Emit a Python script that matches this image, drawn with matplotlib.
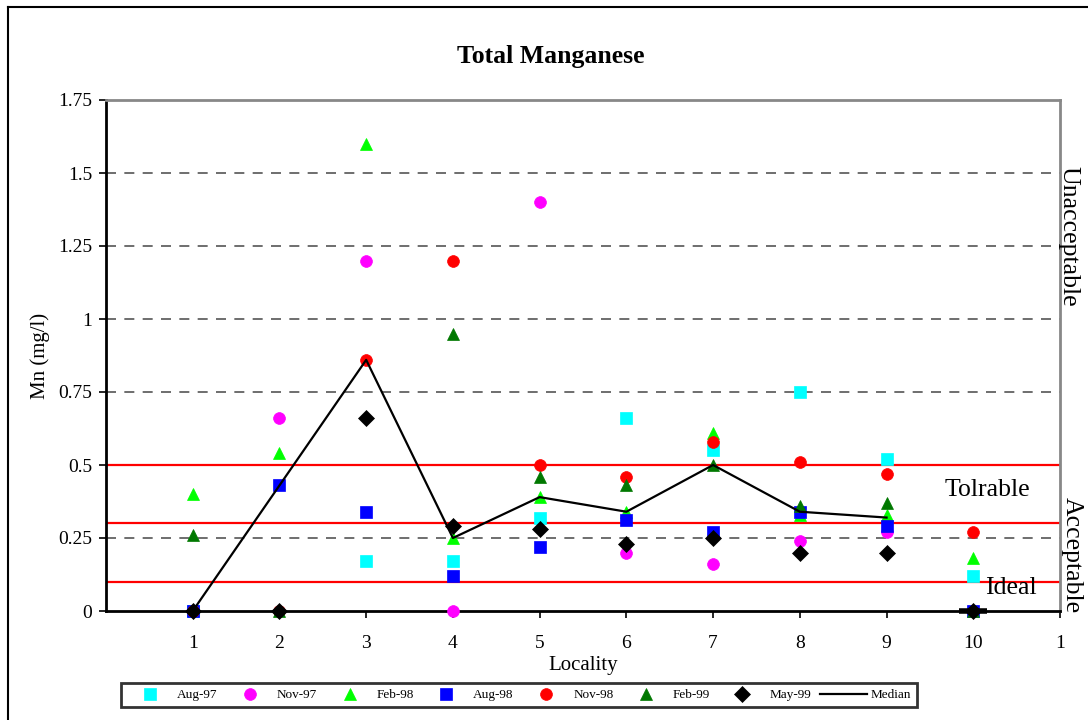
import numpy as np
import matplotlib
matplotlib.use('Agg')
import matplotlib.pyplot as plt
from matplotlib.lines import Line2D

plt.rcParams['font.family'] = ['Liberation Serif', 'DejaVu Serif']

nan = np.nan
locality = [1, 2, 3, 4, 5, 6, 7, 8, 9, 10]
aug97 = [0, nan, 0.17, 0.17, 0.32, 0.66, 0.55, 0.75, 0.52, 0.12]
nov97 = [nan, 0.66, 1.20, 0, 1.40, 0.20, 0.16, 0.24, 0.27, nan]
feb98 = [0.40, 0.54, 1.60, 0.25, 0.39, 0.34, 0.61, 0.33, 0.33, 0.18]
aug98 = [0, 0.43, 0.34, 0.12, 0.22, 0.31, 0.27, 0.34, 0.29, 0]
nov98 = [0, 0, 0.86, 1.20, 0.50, 0.46, 0.58, 0.51, 0.47, 0.27]
feb99 = [0.26, 0, nan, 0.95, 0.46, 0.43, 0.50, 0.36, 0.37, 0]
may99 = [0, 0, 0.66, 0.29, 0.28, 0.23, 0.25, 0.20, 0.20, 0]
median = [0, 0.43, 0.86, 0.25, 0.39, 0.34, 0.50, 0.34, 0.32, 0]

limits = [0.1, 0.3, 0.5]
grid_vals = [0.25, 0.75, 1.0, 1.25, 1.5]
yticks = [0, 0.25, 0.5, 0.75, 1, 1.25, 1.5, 1.75]
ytick_labels = ['0', '0.25', '0.5', '0.75', '1', '1.25', '1.5', '1.75']

series = [
    ('Aug-97', aug97, 's', '#00ffff', 11),
    ('Nov-97', nov97, 'o', '#ff00ff', 11.5),
    ('Feb-98', feb98, '^', '#00ff00', 11.5),
    ('Aug-98', aug98, 's', '#0000ff', 11),
    ('Nov-98', nov98, 'o', '#ff0000', 11.5),
    ('Feb-99', feb99, '^', '#007800', 11.5),
    ('May-99', may99, 'D', '#000000', 7),
]

W, H = 1088, 720
fig = plt.figure(figsize=(W / 100, H / 100), dpi=100)
ax = fig.add_axes([106 / W, 1 - 611 / H, (1060 - 106) / W, (611 - 100) / H])

for y in grid_vals:
    ax.axhline(y, color='#555555', lw=1.2, dashes=(6, 5), zorder=1)
for y in limits:
    ax.axhline(y, color='#ff0000', lw=1.6, zorder=2)

for name, vals, m, c, ms in series:
    ax.plot(locality, vals, ls='none', marker=m, color=c, ms=ms,
            mec=c, mew=0.5, label=name, zorder=3, clip_on=False)

ax.plot(locality[:-1], median[:-1], color='black', lw=1.6, label='Median', zorder=4)
ax.plot(locality[-1:], median[-1:], ls='none', marker='_', ms=20, mew=4,
        color='black', zorder=4, clip_on=False)

ax.set_xlim(0, 11)
ax.set_ylim(0, 1.75)
ax.set_xticks(locality + [11])
ax.set_xticklabels([str(v) for v in locality] + ['1'], fontsize=14)
ax.set_yticks(yticks)
ax.set_yticklabels(ytick_labels, fontsize=14)
ax.tick_params(direction='out', length=5, width=1.2, color='black')
ax.tick_params(axis='x', pad=12)
ax.tick_params(axis='y', pad=5)

for side in ['top', 'right']:
    ax.spines[side].set_color('#888888')
    ax.spines[side].set_linewidth(2)
for side in ['left', 'bottom']:
    ax.spines[side].set_color('black')
    ax.spines[side].set_linewidth(2)

ax.set_xlabel('Locality', fontsize=15, labelpad=3)
ax.set_ylabel('Mn (mg/l)', fontsize=15, labelpad=6)
fig.text(551 / W, 1 - 57 / H, 'Total Manganese', fontsize=18.5,
         fontweight='bold', ha='center', va='center')

ax.text(10.16, 0.414, 'Tolrable', fontsize=18.5, ha='center', va='center')
ax.text(10.43, 0.079, 'Ideal', fontsize=18.5, ha='center', va='center')
ax.text(11.1, 1.284, 'Unacceptable', fontsize=18.5, ha='center', va='center',
        rotation=-90, clip_on=False)
ax.text(11.13, 0.19, 'Acceptable', fontsize=18.5, ha='center', va='center',
        rotation=-90, clip_on=False)

handles, labels = ax.get_legend_handles_labels()
for h in handles[:-1]:
    h.set_markersize(8.5)
leg = fig.legend(handles, labels, ncol=8, loc='center',
                 bbox_to_anchor=(519 / W, 1 - 695 / H), fontsize=9.5,
                 frameon=True, fancybox=False, edgecolor='black',
                 handlelength=3.5, handletextpad=0.3, columnspacing=0.7,
                 borderpad=0.45, borderaxespad=0)
leg.get_frame().set_linewidth(2)

# outer chart border (left and top edges visible)
fig.add_artist(Line2D([8 / W, 8 / W], [0, 1 - 7 / H], color='black', lw=1.5))
fig.add_artist(Line2D([8 / W, 1], [1 - 7 / H, 1 - 7 / H], color='black', lw=1.5))

fig.savefig('out.png', dpi=100)
